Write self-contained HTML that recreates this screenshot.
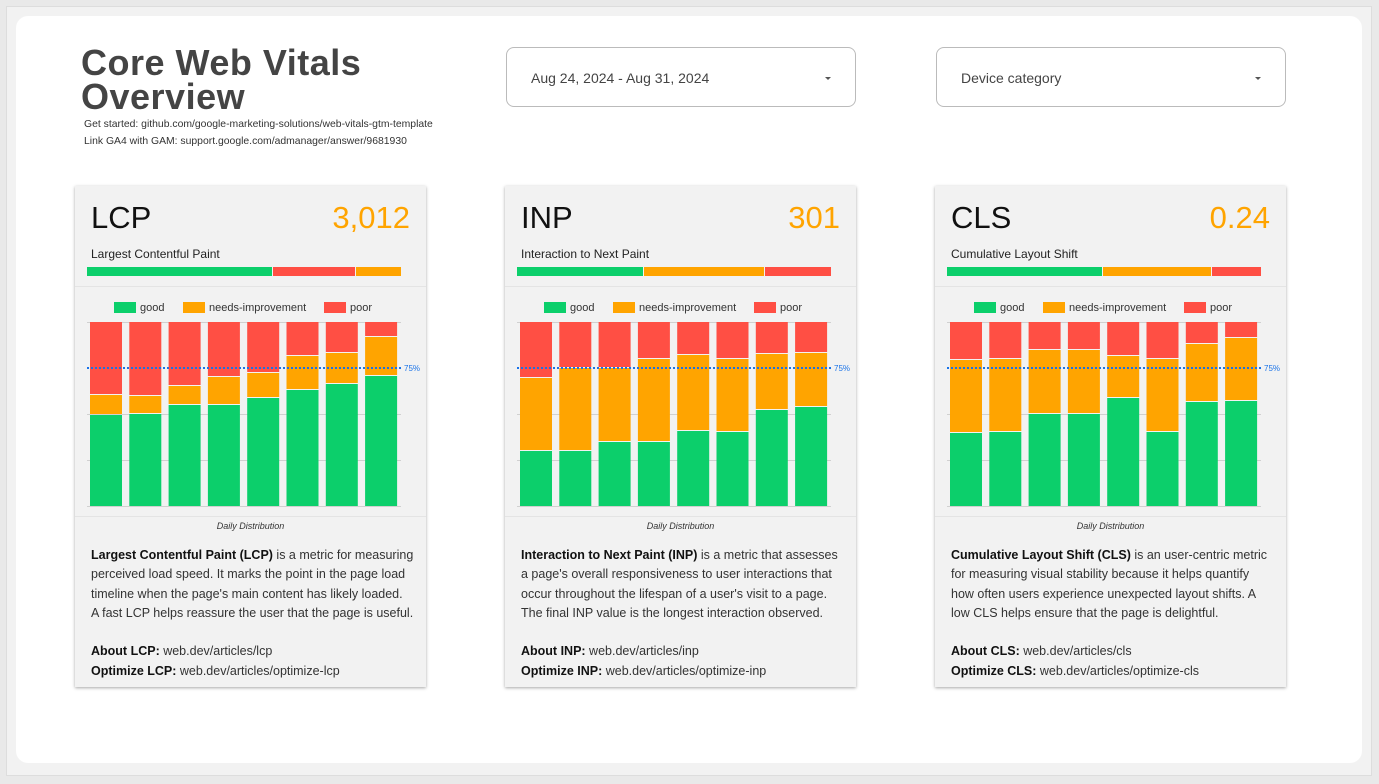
<!DOCTYPE html>
<html><head><meta charset="utf-8"><style>
*{margin:0;padding:0;box-sizing:border-box}
body{width:1379px;height:784px;background:#e9e9e9;font-family:"Liberation Sans",sans-serif;position:relative;overflow:hidden}
.canvas{position:absolute;left:6px;top:6px;width:1366px;height:770px;background:#f2f2f2;border:1px solid #ddd}
.panel{position:absolute;left:16px;top:16px;width:1346px;height:747px;background:#fff;border-radius:12px}
.abs{position:absolute}
.title{left:81px;top:46px;font-size:36px;font-weight:bold;color:#444;line-height:34px;letter-spacing:0.5px}
.sub{left:84px;font-size:10.4px;color:#333}
.dd{top:47px;width:350px;height:60px;border:1px solid #bbb;border-radius:8px;background:#fff;font-size:14px;color:#444;padding:22px 0 0 24px}
.dd:after{content:"";position:absolute;right:24px;top:29px;border-left:3px solid transparent;border-right:3px solid transparent;border-top:3px solid #555}
.card{top:186px;width:351px;height:501px;background:#f2f2f2;box-shadow:0 1px 3px rgba(0,0,0,0.35)}
.card .name{position:absolute;left:16px;top:14px;font-size:31px;color:#111}
.card .val{position:absolute;right:16px;top:14px;font-size:31px;color:#ffa400}
.card .full{position:absolute;left:16px;top:61px;font-size:12px;color:#222}
.card .sep{position:absolute;left:0;right:0;height:1px;background:#e4e4e4}
.card .dist{position:absolute;left:0;right:0;top:335px;text-align:center;font-size:9px;font-style:italic;color:#333}
.card .txt{position:absolute;left:16px;top:360px;width:335px;font-size:12.5px;line-height:19.3px;color:#333;white-space:nowrap}
.card .txt b{color:#111}
.card svg{position:absolute;left:0;top:0}
</style></head><body>
<div class="canvas"></div>
<div class="panel"></div>
<div class="abs title">Core Web Vitals<br>Overview</div>
<div class="abs sub" style="top:119px">Get started: github.com/google-marketing-solutions/web-vitals-gtm-template</div>
<div class="abs sub" style="top:136px">Link GA4 with GAM: support.google.com/admanager/answer/9681930</div>
<div class="abs dd" style="left:506px">Aug 24, 2024 - Aug 31, 2024</div>
<div class="abs dd" style="left:936px">Device category</div>

<div class="abs card" style="left:75px">
<div class="name">LCP</div><div class="val">3,012</div><div class="full">Largest Contentful Paint</div>
<div class="sep" style="top:100px"></div><div class="sep" style="top:330px"></div>
<svg width="351" height="501" viewBox="0 186 351 501">
<rect x="12" y="267" width="185" height="9" fill="#0ccf6b"/><rect x="198" y="267" width="82" height="9" fill="#ff4f44"/><rect x="281" y="267" width="45" height="9" fill="#ffa400"/>
<g font-size="11" fill="#333" font-family="Liberation Sans"><rect x="39" y="302" width="22" height="11" fill="#0ccf6b"/><text x="65" y="311">good</text><rect x="108" y="302" width="22" height="11" fill="#ffa400"/><text x="134" y="311">needs-improvement</text><rect x="249" y="302" width="22" height="11" fill="#ff4f44"/><text x="275" y="311">poor</text></g>
<g stroke="#d0d0d0"><line x1="12" x2="326" y1="322.5" y2="322.5"/><line x1="12" x2="326" y1="414.5" y2="414.5"/><line x1="12" x2="326" y1="460.5" y2="460.5"/><line x1="12" x2="326" y1="506.5" y2="506.5"/></g>
<g id="b1"></g>
<line x1="12" x2="326" y1="368" y2="368" stroke="#1a73e8" stroke-width="2" stroke-dasharray="2,2"/><text x="329" y="371" font-size="8" fill="#1a73e8">75%</text>
</svg>
<div class="dist">Daily Distribution</div>
<div class="txt"><b>Largest Contentful Paint (LCP)</b> is a metric for measuring<br>perceived load speed. It marks the point in the page load<br>timeline when the page's main content has likely loaded.<br>A fast LCP helps reassure the user that the page is useful.<br><br><b>About LCP:</b> web.dev/articles/lcp<br><b>Optimize LCP:</b> web.dev/articles/optimize-lcp</div>
</div>

<div class="abs card" style="left:505px">
<div class="name">INP</div><div class="val">301</div><div class="full">Interaction to Next Paint</div>
<div class="sep" style="top:100px"></div><div class="sep" style="top:330px"></div>
<svg width="351" height="501" viewBox="0 186 351 501">
<rect x="12" y="267" width="126" height="9" fill="#0ccf6b"/><rect x="139" y="267" width="120" height="9" fill="#ffa400"/><rect x="260" y="267" width="66" height="9" fill="#ff4f44"/>
<g font-size="11" fill="#333" font-family="Liberation Sans"><rect x="39" y="302" width="22" height="11" fill="#0ccf6b"/><text x="65" y="311">good</text><rect x="108" y="302" width="22" height="11" fill="#ffa400"/><text x="134" y="311">needs-improvement</text><rect x="249" y="302" width="22" height="11" fill="#ff4f44"/><text x="275" y="311">poor</text></g>
<g stroke="#d0d0d0"><line x1="12" x2="326" y1="322.5" y2="322.5"/><line x1="12" x2="326" y1="414.5" y2="414.5"/><line x1="12" x2="326" y1="460.5" y2="460.5"/><line x1="12" x2="326" y1="506.5" y2="506.5"/></g>
<g id="b2"></g>
<line x1="12" x2="326" y1="368" y2="368" stroke="#1a73e8" stroke-width="2" stroke-dasharray="2,2"/><text x="329" y="371" font-size="8" fill="#1a73e8">75%</text>
</svg>
<div class="dist">Daily Distribution</div>
<div class="txt"><b>Interaction to Next Paint (INP)</b> is a metric that assesses<br>a page's overall responsiveness to user interactions that<br>occur throughout the lifespan of a user's visit to a page.<br>The final INP value is the longest interaction observed.<br><br><b>About INP:</b> web.dev/articles/inp<br><b>Optimize INP:</b> web.dev/articles/optimize-inp</div>
</div>

<div class="abs card" style="left:935px">
<div class="name">CLS</div><div class="val">0.24</div><div class="full">Cumulative Layout Shift</div>
<div class="sep" style="top:100px"></div><div class="sep" style="top:330px"></div>
<svg width="351" height="501" viewBox="0 186 351 501">
<rect x="12" y="267" width="155" height="9" fill="#0ccf6b"/><rect x="168" y="267" width="108" height="9" fill="#ffa400"/><rect x="277" y="267" width="49" height="9" fill="#ff4f44"/>
<g font-size="11" fill="#333" font-family="Liberation Sans"><rect x="39" y="302" width="22" height="11" fill="#0ccf6b"/><text x="65" y="311">good</text><rect x="108" y="302" width="22" height="11" fill="#ffa400"/><text x="134" y="311">needs-improvement</text><rect x="249" y="302" width="22" height="11" fill="#ff4f44"/><text x="275" y="311">poor</text></g>
<g stroke="#d0d0d0"><line x1="12" x2="326" y1="322.5" y2="322.5"/><line x1="12" x2="326" y1="414.5" y2="414.5"/><line x1="12" x2="326" y1="460.5" y2="460.5"/><line x1="12" x2="326" y1="506.5" y2="506.5"/></g>
<g id="b3"></g>
<line x1="12" x2="326" y1="368" y2="368" stroke="#1a73e8" stroke-width="2" stroke-dasharray="2,2"/><text x="329" y="371" font-size="8" fill="#1a73e8">75%</text>
</svg>
<div class="dist">Daily Distribution</div>
<div class="txt"><b>Cumulative Layout Shift (CLS)</b> is an user-centric metric<br>for measuring visual stability because it helps quantify<br>how often users experience unexpected layout shifts. A<br>low CLS helps ensure that the page is delightful.<br><br><b>About CLS:</b> web.dev/articles/cls<br><b>Optimize CLS:</b> web.dev/articles/optimize-cls</div>
</div>

<script>
var D={b1:{g:[415,414,405,405,398,390,384,376],o:[395,396,386,377,373,356,353,337]},
b2:{g:[451,451,442,442,431,432,410,407],o:[378,368,368,359,355,359,354,353]},
b3:{g:[433,432,414,414,398,432,402,401],o:[360,359,350,350,356,359,344,338]}};
for(var k in D){var s='';for(var i=0;i<8;i++){var x=15+i*39.3,g=D[k].g[i],o=D[k].o[i];
s+='<rect x="'+x+'" y="322" width="32" height="'+(o-322-1)+'" fill="#ff4f44"/>';
s+='<rect x="'+x+'" y="'+o+'" width="32" height="'+(g-o-1)+'" fill="#ffa400"/>';
s+='<rect x="'+x+'" y="'+g+'" width="32" height="'+(506-g)+'" fill="#0ccf6b"/>';}
document.getElementById(k).innerHTML=s;}
</script>
</body></html>
